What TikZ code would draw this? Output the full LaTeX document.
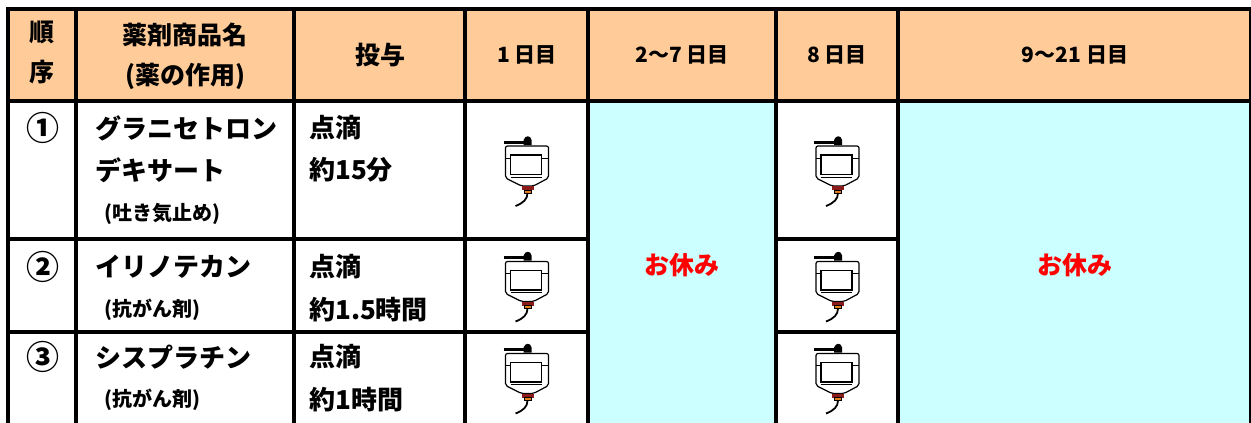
\documentclass[tikz,border=0pt]{standalone}
\usepackage{fontspec}
\setmainfont{Noto Sans CJK JP}
\definecolor{peach}{HTML}{FFCC99}
\definecolor{aqua}{HTML}{CCFFFF}
\definecolor{neckred}{HTML}{8B1A1A}
\definecolor{neckorange}{HTML}{E0801E}
\begin{document}
\begin{tikzpicture}[x=1pt,y=-1pt,
    grid/.style={line width=4pt,line cap=rect},
    hd/.style={font=\fontsize{25}{25}\selectfont\bfseries,inner sep=0pt},
    dayhd/.style={font=\fontsize{21}{21}\selectfont\bfseries,inner sep=0pt},
    txt/.style={font=\fontsize{26}{26}\selectfont\bfseries,inner sep=0pt,anchor=west},
    ord/.style={font=\fontsize{33}{33}\selectfont\bfseries,inner sep=0pt},
    sub/.style={font=\fontsize{20}{20}\selectfont\bfseries,inner sep=0pt,anchor=west},
    rest/.style={font=\fontsize{25}{25}\selectfont\bfseries,text=red,inner sep=0pt},
    drip/.pic={
      \draw[line width=3pt] (-23,-19) -- (0,-19);
      \fill (-3,-16) -- (-3,-21) .. controls (-1,-26) and (4,-26) .. (5,-21) -- (5,-16) -- cycle;
      \draw[line width=1.2pt,rounded corners=2pt] (-5,25) -- (-21,17) -- (-21,-15) -- (22,-15) -- (22,17) -- (7,25) -- cycle;
      \draw[line width=1pt] (-21,-3) -- (-16,-3) (15,-3) -- (22,-3);
      \draw[line width=1.2pt] (-16,-6) rectangle (15,13.5);
      \draw[line width=1pt] (-16,16) -- (15,16);
      \fill[neckred] (-5,25) rectangle (7,29);
      \filldraw[fill=neckorange,line width=0.8pt] (-2.5,29) rectangle (4.5,32);
      \draw[line width=1.8pt] (1,32) .. controls (1,38) and (-3,42) .. (-11,45);
    }]
  \useasboundingbox (0,0) rectangle (1251,423);
  % backgrounds
  \fill[peach] (8,9) rectangle (1251,101);
  \fill[aqua] (588,101) rectangle (776,423);
  \fill[aqua] (898,101) rectangle (1251,423);
  % table rules
  \foreach \x in {8,76,294,465,588,776,898,1251}
    \draw[grid] (\x,9) -- (\x,425);
  \draw[grid] (8,9) -- (1251,9);
  \draw[grid] (8,101) -- (1251,101);
  \foreach \y in {239,332} {
    \draw[grid] (8,\y) -- (588,\y);
    \draw[grid] (776,\y) -- (898,\y);
  }
  % header
  \node[hd] (jun) at (42,32) {順};
  \node[hd] (jo) at (42,72) {序};
  \node[hd] (name) at (185,35) {薬剤商品名};
  \node[hd] (role) at (185,76) {(薬の作用)};
  \node[hd] (toyo) at (380,55) {投与};
  \node[dayhd] (day1) at (527,55) {1 日目};
  \node[dayhd] (day27) at (682,55) {2〜7 日目};
  \node[dayhd] (day8) at (837,55) {8 日目};
  \node[dayhd] (day921) at (1075,55) {9〜21 日目};
  % rows
  \node[ord] (ord1) at (43,128) {①};
  \node[txt] (drug1) at (95,128) {グラニセトロン};
  \node[txt] (drug1b) at (95,170) {デキサート};
  \node[sub] (use1) at (104,214) {(吐き気止め)};
  \node[txt] (how1) at (309,128) {点滴};
  \node[txt] (time1) at (309,170) {約15分};
  \node[ord] (ord2) at (43,267) {②};
  \node[txt] (drug2) at (95,267) {イリノテカン};
  \node[sub] (use2) at (104,310) {(抗がん剤)};
  \node[txt] (how2) at (309,267) {点滴};
  \node[txt] (time2) at (309,310) {約1.5時間};
  \node[ord] (ord3) at (43,357) {③};
  \node[txt] (drug3) at (95,357) {シスプラチン};
  \node[sub] (use3) at (104,400) {(抗がん剤)};
  \node[txt] (how3) at (309,357) {点滴};
  \node[txt] (time3) at (309,400) {約1時間};
  % drip bags
  \foreach \cx/\cn in {526.5/a,837/b}
    \foreach \cy/\rn in {161/1,276.5/2,368.5/3}
      \pic (drip\cn\rn) at (\cx,\cy) {drip};
  % rest days
  \node[rest] (rest1) at (682,265) {お休み};
  \node[rest] (rest2) at (1075,265) {お休み};
\end{tikzpicture}
\end{document}
